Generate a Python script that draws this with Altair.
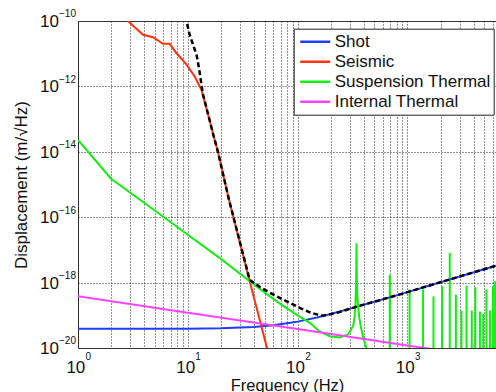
import altair as alt
import pandas as pd

FONT = "Liberation Sans"

# ---- data ----
shot_f = [1, 10, 20, 40, 60, 80, 100, 150, 200, 300, 500, 700, 1000, 2000, 3000, 5000, 6400]
shot_v = [3.9e-20, 3.9e-20, 4.0e-20, 4.4e-20, 5.0e-20, 5.7e-20, 6.4e-20, 8.6e-20, 1.09e-19,
          1.6e-19, 2.6e-19, 3.6e-19, 5.1e-19, 1.03e-18, 1.54e-18, 2.57e-18, 3.3e-18]

seis_f = [2.5, 2.85, 3.91, 4.82, 5.94, 6.84, 7.87, 9.71, 11.56, 13.3, 15.3, 17.2, 18.8, 23.7,
          36.6, 52.6, 60]
seis_v = [1.5e-10, 1.0e-10, 3.8e-11, 3.2e-11, 2.0e-11, 2.0e-11, 1.05e-11, 4.7e-12, 2.0e-12,
          7.9e-13, 1.38e-13, 3.0e-14, 1.0e-14, 3.4e-16, 1.1e-18, 1.0e-20, 1.8e-21]

susp_f = [1, 2, 5, 10, 20, 36.6, 50, 70, 100, 129, 158.6, 196, 241.6, 288, 320, 330, 336.6,
          341, 343.5, 346, 350, 355, 365, 381, 400, 423.6, 450]
susp_v = [2.3e-14, 1.5e-15, 1.6e-16, 2.9e-17, 5.3e-18, 1.1e-18, 5.0e-19, 2.2e-19, 1.0e-19,
          5.9e-20, 3.2e-20, 2.3e-20, 2.1e-20, 2.6e-20, 4.7e-20, 9.0e-20, 2.4e-19, 1.2e-18,
          1.6e-17, 1.2e-18, 4.0e-19, 1.9e-19, 8.0e-20, 3.6e-20, 1.8e-20, 1.0e-20, 4.0e-21]

# high-frequency suspension resonances (peak frequency, peak value)
spike_f = [690, 1045, 1387, 1725, 2070, 2427, 2760, 3105, 3450, 3850, 4150, 4570, 4900,
           5240, 5640, 6000, 6280]
spike_v = [1.74e-18, 6.2e-19, 6.2e-19, 3.8e-19, 7.8e-19, 8.1e-18, 4.3e-19, 1.4e-19, 8.1e-19,
           1.4e-19, 7.2e-19, 1.3e-19, 1.1e-19, 6.2e-19, 1.4e-19, 7.8e-19, 1.1e-18]

int_f = [1, 10, 100, 1000, 2000]
int_v = [3.8e-19, 1.2e-19, 3.8e-20, 1.2e-20, 8.5e-21]

tot_f = [9.4, 9.71, 10.4, 11.15, 12.0, 12.65, 13.3, 13.7, 15.3, 17.2, 18.8, 23.7, 30, 36.6,
         45.2, 55.7, 68.7, 84.7, 104.5, 133.6, 153, 170, 241, 355, 560, 1000, 2000, 4000, 6400]
tot_v = [1.4e-10, 1.0e-10, 3.8e-11, 1.9e-11, 9.3e-12, 3.6e-12, 1.15e-12, 6.0e-13, 1.4e-13,
         3.0e-14, 1.0e-14, 3.4e-16, 1.6e-17, 1.2e-18, 7.4e-19, 4.9e-19, 3.4e-19, 2.4e-19,
         1.7e-19, 1.17e-19, 1.05e-19, 9.7e-20, 1.25e-19, 1.9e-19, 2.9e-19, 5.1e-19, 1.03e-18,
         2.05e-18, 3.3e-18]

series_names = ["Shot", "Seismic", "Suspension Thermal", "Internal Thermal"]
series_colors = ["#1f3cff", "#ff3311", "#11ee11", "#ff44ff"]

y_ticks = [1e-10, 1e-12, 1e-14, 1e-16, 1e-18, 1e-20]
y_exp = ["\u221210", "\u221212", "\u221214", "\u221216", "\u221218", "\u221220"]
x_ticks = [1, 10, 100, 1000]
x_exp = ["0", "1", "2", "3"]

x_grid = [k * 10 ** d for d in range(0, 4) for k in range(1, 10) if k * 10 ** d <= 6400]
y_grid = [1e-12, 1e-14, 1e-16, 1e-18]

# ---- tables ----
rows = []
for name, fs, vs in [("Shot", shot_f, shot_v), ("Seismic", seis_f, seis_v),
                     ("Suspension Thermal", susp_f, susp_v), ("Internal Thermal", int_f, int_v)]:
    for f, v in zip(fs, vs):
        rows.append({"freq": f, "value": v, "series": name})
lines_df = pd.DataFrame(rows)
tot_df = pd.DataFrame({"freq": tot_f, "value": tot_v})
spike_df = pd.DataFrame({"freq": spike_f, "value": spike_v})
ylab_df = pd.DataFrame({"freq": [1] * len(y_ticks), "value": y_ticks, "base": ["10"] * len(y_ticks), "exp": y_exp})
xlab_df = pd.DataFrame({"freq": x_ticks, "value": [1e-20] * len(x_ticks), "base": ["10"] * len(x_ticks), "exp": x_exp})

X = alt.X("freq:Q", scale=alt.Scale(type="log", domain=[1, 6400], nice=False),
          axis=alt.Axis(values=x_grid, labels=False, ticks=False, domain=False, grid=True,
                        gridDash=[1, 2], gridColor="#222", gridWidth=1,
                        title="Frequency (Hz)", titleFont=FONT, titleFontSize=16.5,
                        titleFontWeight="normal", titleColor="#111", titlePadding=29))
Y = alt.Y("value:Q", scale=alt.Scale(type="log", domain=[1e-20, 1e-10], nice=False),
          axis=alt.Axis(values=y_grid, labels=False, ticks=False, domain=False, grid=True,
                        gridDash=[1, 2], gridColor="#222", gridWidth=1,
                        title="Displacement (m/\u221aHz)", titleFont=FONT, titleFontSize=17,
                        titleFontWeight="normal", titleColor="#111", titlePadding=48))

lines = alt.Chart(lines_df).mark_line(clip=True, strokeWidth=2).encode(
    x=X, y=Y,
    color=alt.Color("series:N", sort=series_names,
                    scale=alt.Scale(domain=series_names, range=series_colors),
                    legend=alt.Legend(orient="none", legendX=215.7, legendY=7.7, title=None,
                                      symbolType="stroke", symbolSize=900, symbolStrokeWidth=2.5,
                                      labelFont=FONT, labelFontSize=17, labelColor="#111",
                                      padding=3, symbolOffset=2, labelOffset=3,
                                      clipHeight=20, rowPadding=0,
                                      strokeColor="#222", fillColor="white", cornerRadius=0)),
    order=alt.Order("freq:Q"),
)

spikes = alt.Chart(spike_df).mark_rule(clip=True, strokeWidth=2, color="#11ee11").encode(
    x=X, y=Y, y2=alt.datum(1e-20)
)

total = alt.Chart(tot_df).mark_line(clip=True, strokeWidth=2.5, color="black",
                                    strokeDash=[5, 3]).encode(x=X, y=Y)

ylab_base = alt.Chart(ylab_df).mark_text(align="right", baseline="alphabetic", dx=-19, dy=6,
                                         font=FONT, fontSize=17, color="#111").encode(
    x=X, y=Y, text="base:N")
ylab_exp = alt.Chart(ylab_df).mark_text(align="right", baseline="alphabetic", dx=-2, dy=-3.7,
                                        font=FONT, fontSize=10, color="#111").encode(
    x=X, y=Y, text="exp:N")
xlab_base = alt.Chart(xlab_df).mark_text(align="right", baseline="alphabetic", dx=7.3, dy=25,
                                         font=FONT, fontSize=17, color="#111").encode(
    x=X, y=Y, text="base:N")
xlab_exp = alt.Chart(xlab_df).mark_text(align="left", baseline="alphabetic", dx=7.5, dy=12,
                                        font=FONT, fontSize=10, color="#111").encode(
    x=X, y=Y, text="exp:N")

chart = alt.layer(spikes, lines, total, ylab_base, ylab_exp, xlab_base, xlab_exp).properties(
    width=418, height=327,
    autosize=alt.AutoSizeParams(type="none"),
    padding={"left": 78, "top": 21, "right": 0, "bottom": 44},
    background="white",
).configure_view(stroke="#333", strokeWidth=1)

chart.save("out.html", embed_options={"renderer": "svg", "actions": False})
